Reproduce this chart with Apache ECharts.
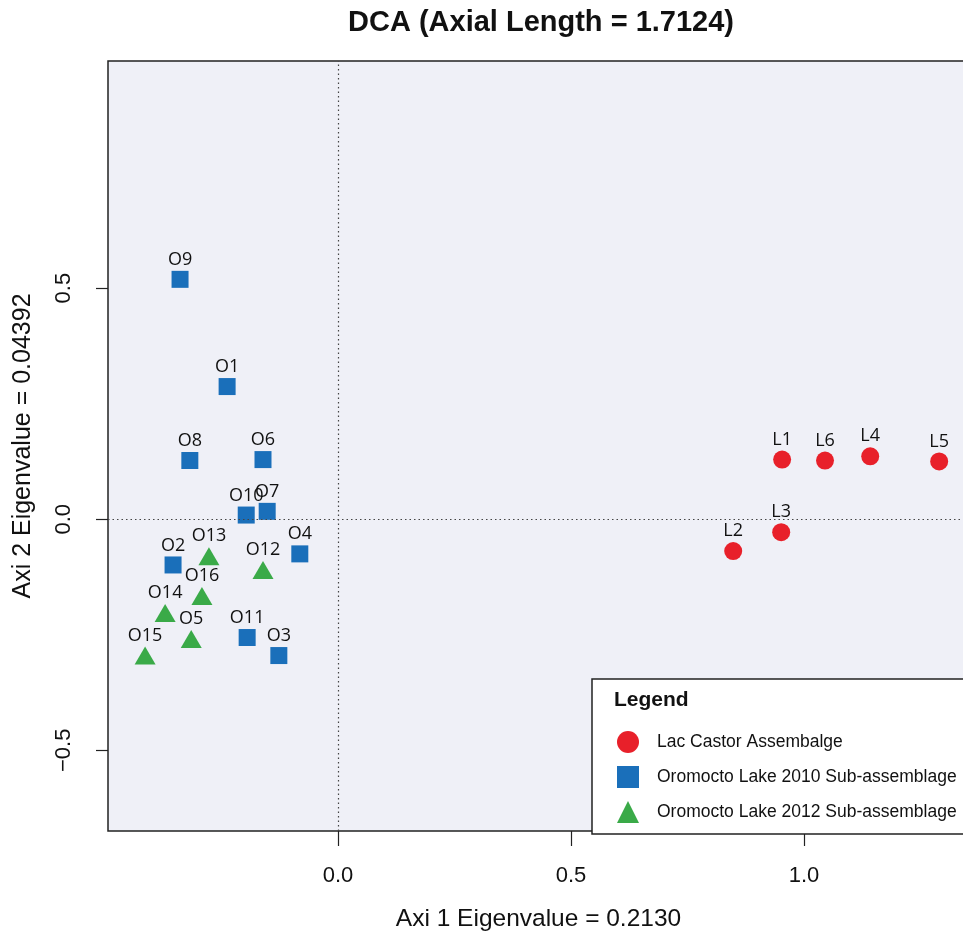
<!DOCTYPE html>
<html>
<head>
<meta charset="utf-8">
<script src="https://cdn.jsdelivr.net/npm/echarts@6/dist/echarts.min.js"></script>
<style>html,body{margin:0;padding:0;background:#fff;overflow:hidden}#c{width:980px;height:937px}</style>
</head>
<body>
<div id="c"></div>
<script>
// Lac Castor Assemblage (red circles)
var lacNames = ['L1','L2','L3','L4','L5','L6'];
var lacX = [0.953, 0.848, 0.951, 1.142, 1.290, 1.045];
var lacY = [0.129, -0.069, -0.028, 0.136, 0.125, 0.127];

// Oromocto Lake 2010 (blue squares)
var o10Names = ['O1','O2','O3','O4','O6','O7','O8','O9','O10','O11'];
var o10X = [-0.238, -0.354, -0.127, -0.082, -0.161, -0.152, -0.318, -0.339, -0.197, -0.195];
var o10Y = [0.287, -0.099, -0.295, -0.075, 0.129, 0.017, 0.127, 0.519, 0.009, -0.256];

// Oromocto Lake 2012 (green triangles)
var o12Names = ['O5','O12','O13','O14','O15','O16'];
var o12X = [-0.315, -0.161, -0.277, -0.371, -0.414, -0.292];
var o12Y = [-0.259, -0.110, -0.080, -0.203, -0.295, -0.166];

var xTicks = [0.0, 0.5, 1.0];
var yTicks = [-0.5, 0.0, 0.5];

function pts(n, x, y) { return n.map(function (s, i) { return [x[i], y[i], s]; }); }

var labelFont = '"Open Sans", "Noto Sans", sans-serif';
var axisFont = '"Liberation Sans", Arial, sans-serif';

var chart = echarts.init(document.getElementById('c'), null, { renderer: 'canvas' });
var lbl = {
  show: true, position: 'top', distance: 2,
  formatter: function (p) { return p.data[2]; },
  color: '#111', fontSize: 18, fontFamily: labelFont
};
chart.setOption({
  animation: false,
  backgroundColor: '#ffffff',
  grid: {
    left: 108, top: 61, right: 11, bottom: 103,
    show: true, backgroundColor: '#eff0f7', borderColor: '#222', borderWidth: 1.5
  },
  xAxis: {
    type: 'value', min: -0.4936, max: 1.354,
    name: 'Axi 1 Eigenvalue = 0.2130', nameLocation: 'middle', nameGap: 76,
    nameTextStyle: { fontSize: 24.5, color: '#111', fontFamily: axisFont },
    axisLine: { show: false, onZero: false },
    axisTick: { show: true, inside: false, length: 15, customValues: xTicks, lineStyle: { color: '#222', width: 1.2 } },
    axisLabel: { customValues: xTicks, margin: 34, fontSize: 22, color: '#111', fontFamily: axisFont,
      formatter: function (v) { return v.toFixed(1); } },
    splitLine: { show: false }
  },
  yAxis: {
    type: 'value', min: -0.6746, max: 0.9914,
    name: 'Axi 2 Eigenvalue = 0.04392', nameLocation: 'middle', nameGap: 72, nameRotate: 90,
    nameTextStyle: { fontSize: 25, color: '#111', fontFamily: axisFont },
    axisLine: { show: false, onZero: false },
    axisTick: { show: true, inside: false, length: 12, customValues: yTicks, lineStyle: { color: '#222', width: 1.2 } },
    axisLabel: { customValues: yTicks, rotate: 90, margin: 33, fontSize: 22, color: '#111', fontFamily: axisFont,
      formatter: function (v) { return v === 0 ? '0.0' : (v < 0 ? '\u2212' + Math.abs(v).toFixed(1) : v.toFixed(1)); } },
    splitLine: { show: false }
  },
  legend: {
    orient: 'vertical', left: 612, top: 726, itemWidth: 22, itemHeight: 22, itemGap: 13, z: 10,
    textStyle: { fontSize: 17.5, color: '#111', fontFamily: axisFont, padding: [0, 0, 0, 13] },
    data: ['Lac Castor Assembalge', 'Oromocto Lake 2010 Sub-assemblage', 'Oromocto Lake 2012 Sub-assemblage']
  },
  graphic: [
    { type: 'text', x: 541, y: 23, z: 10, style: { text: 'DCA (Axial Length = 1.7124)', align: 'center', verticalAlign: 'middle',
      font: 'bold 29px "Liberation Sans", Arial, sans-serif', fill: '#111' } },
    { type: 'rect', z: 5, shape: { x: 592, y: 679, width: 400, height: 155 },
      style: { fill: '#ffffff', stroke: '#222', lineWidth: 1.5 } },
    { type: 'text', x: 614, y: 700, z: 10, style: { text: 'Legend', align: 'left', verticalAlign: 'middle',
      font: 'bold 21px "Liberation Sans", Arial, sans-serif', fill: '#111' } }
  ],
  series: [
    {
      name: 'Lac Castor Assembalge', type: 'scatter', symbol: 'circle', symbolSize: 18,
      itemStyle: { color: '#e8202a', opacity: 1 }, label: lbl, data: pts(lacNames, lacX, lacY),
      markLine: {
        silent: true, symbol: 'none', label: { show: false },
        lineStyle: { type: [1.5, 3], color: '#444', width: 1.2 },
        data: [{ xAxis: 0 }, { yAxis: 0 }]
      }
    },
    {
      name: 'Oromocto Lake 2010 Sub-assemblage', type: 'scatter', symbol: 'rect', symbolSize: 17,
      itemStyle: { color: '#1a6fba', opacity: 1 }, label: lbl, data: pts(o10Names, o10X, o10Y)
    },
    {
      name: 'Oromocto Lake 2012 Sub-assemblage', type: 'scatter', symbol: 'triangle', symbolSize: [21, 18],
      itemStyle: { color: '#3aaa48', opacity: 1 }, label: lbl, data: pts(o12Names, o12X, o12Y)
    }
  ]
});
</script>
</body>
</html>
